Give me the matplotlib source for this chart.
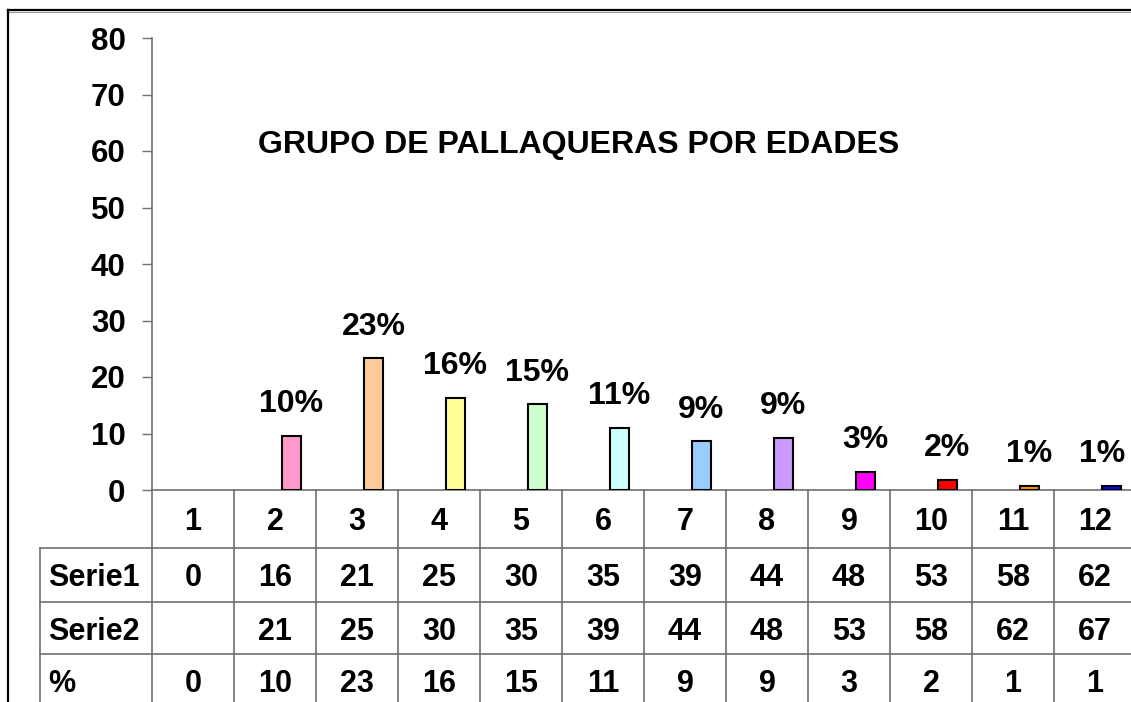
import numpy as np
import matplotlib
matplotlib.use('Agg')
import matplotlib.pyplot as plt
from matplotlib.lines import Line2D


# Chart data
categories = ['1', '2', '3', '4', '5', '6', '7', '8', '9', '10', '11', '12']
bar_values = [0, 9.6, 23.3, 16.3, 15.2, 11.0, 8.6, 9.2, 3.2, 1.8, 0.7, 0.7]
pct_labels = ['', '10%', '23%', '16%', '15%', '11%', '9%', '9%', '3%', '2%', '1%', '1%']
serie1 = ['0', '16', '21', '25', '30', '35', '39', '44', '48', '53', '58', '62']
serie2 = ['', '21', '25', '30', '35', '39', '44', '48', '53', '58', '62', '67']
pct_row = ['0', '10', '23', '16', '15', '11', '9', '9', '3', '2', '1', '1']
row_names = ['Serie1', 'Serie2', '%']
bar_colors = ['#9999FF', '#FF99CC', '#FFCC99', '#FFFF99', '#CCFFCC', '#CCFFFF',
              '#99CCFF', '#CC99FF', '#FF00FF', '#FF0000', '#FF9900', '#0000FF']
title = 'GRUPO DE PALLAQUERAS POR EDADES'

W, H = 1131, 702
GRID = '#707070'
plt.rcParams['font.family'] = ['Liberation Sans', 'DejaVu Sans']
plt.rcParams['font.weight'] = 'bold'

fig = plt.figure(figsize=(W / 100, H / 100), dpi=100)

# outer chart frame: only top and left edges are inside the picture
fig.add_artist(Line2D([8 / W, 1.0], [1 - 10 / H, 1 - 10 / H], transform=fig.transFigure,
                      color='black', lw=1.6))
fig.add_artist(Line2D([8 / W, 1.0], [1 - 12 / H, 1 - 12 / H], transform=fig.transFigure,
                      color='#999999', lw=0.8))
fig.add_artist(Line2D([8 / W, 8 / W], [0, 1 - 10 / H], transform=fig.transFigure,
                      color='black', lw=1.6))

# bar area
ax = fig.add_axes([152 / W, (H - 490) / H, 984 / W, 452 / H])
x = np.arange(1, len(categories) + 1)
bx = x + 0.2  # bars sit right of the column centre, as in the original
edge_cols = ['black' if v > 0 else 'none' for v in bar_values]
ax.bar(bx, bar_values, width=0.23, color=bar_colors, edgecolor=edge_cols, linewidth=1.5, zorder=3)
anns = []
for xi, v, lab in zip(bx, bar_values, pct_labels):
    if lab:
        anns.append(ax.annotate(lab, (xi, v), xytext=(0, 17), textcoords='offset points',
                                ha='center', va='baseline', fontsize=23, fontweight='bold'))

ax.set_xlim(0.5, len(categories) + 0.5)
ax.set_ylim(0, 80)
ax.set_yticks(range(0, 81, 10))
ax.set_xticks([])
ax.tick_params(axis='y', length=7, width=1, color=GRID, pad=12, labelsize=22.5)
for lbl in ax.get_yticklabels():
    lbl.set_fontweight('bold')
for s in ['top', 'right']:
    ax.spines[s].set_visible(False)
for s in ['left', 'bottom']:
    ax.spines[s].set_color(GRID)
    ax.spines[s].set_linewidth(1.2)
ax.set_facecolor('none')

fig.text(579 / W, (H - 153) / H, title, ha='center', va='baseline',
         fontsize=23, fontweight='bold')

# data table below
row_h = [58, 54, 52, 52]
edges = np.concatenate([[0], np.cumsum(row_h)])
tab = fig.add_axes([152 / W, (H - 490 - edges[-1]) / H, 984 / W, edges[-1] / H])
tab.set_xlim(0.5, len(categories) + 0.5)
tab.set_ylim(edges[-1], 0)
tab.axis('off')

label_left = 0.5 - 112 / 82
for xv in np.arange(0.5, len(categories) + 1):
    tab.add_line(Line2D([xv, xv], [0, edges[-1]], color=GRID, lw=1.2, clip_on=False))
tab.add_line(Line2D([label_left, label_left], [edges[1], edges[-1]], color=GRID, lw=1.2, clip_on=False))
for yv in edges[1:-1]:
    tab.add_line(Line2D([label_left, len(categories) + 0.5], [yv, yv], color=GRID, lw=1.2, clip_on=False))

for xi, c in zip(x, categories):
    tab.text(xi, (edges[0] + edges[1]) / 2, c, ha='center', va='center_baseline',
             fontsize=22, fontweight='bold')
for r, (name, vals) in enumerate(zip(row_names, [serie1, serie2, pct_row])):
    yc = (edges[r + 1] + edges[r + 2]) / 2
    tab.text(label_left + 0.1, yc, name, ha='left', va='center_baseline',
             fontsize=22, fontweight='bold', clip_on=False)
    for xi, v in zip(x, vals):
        tab.text(xi, yc, v, ha='center', va='center_baseline', fontsize=22, fontweight='bold')

# keep data labels inside the picture (last one is pushed left like in Excel)
fig.canvas.draw()
for a in anns:
    bb = a.get_window_extent()
    over = bb.x1 - (W - 6)
    if over > 0:
        a.set_position((-over * 72 / fig.dpi, 17))

fig.savefig('out.png', dpi=100)
